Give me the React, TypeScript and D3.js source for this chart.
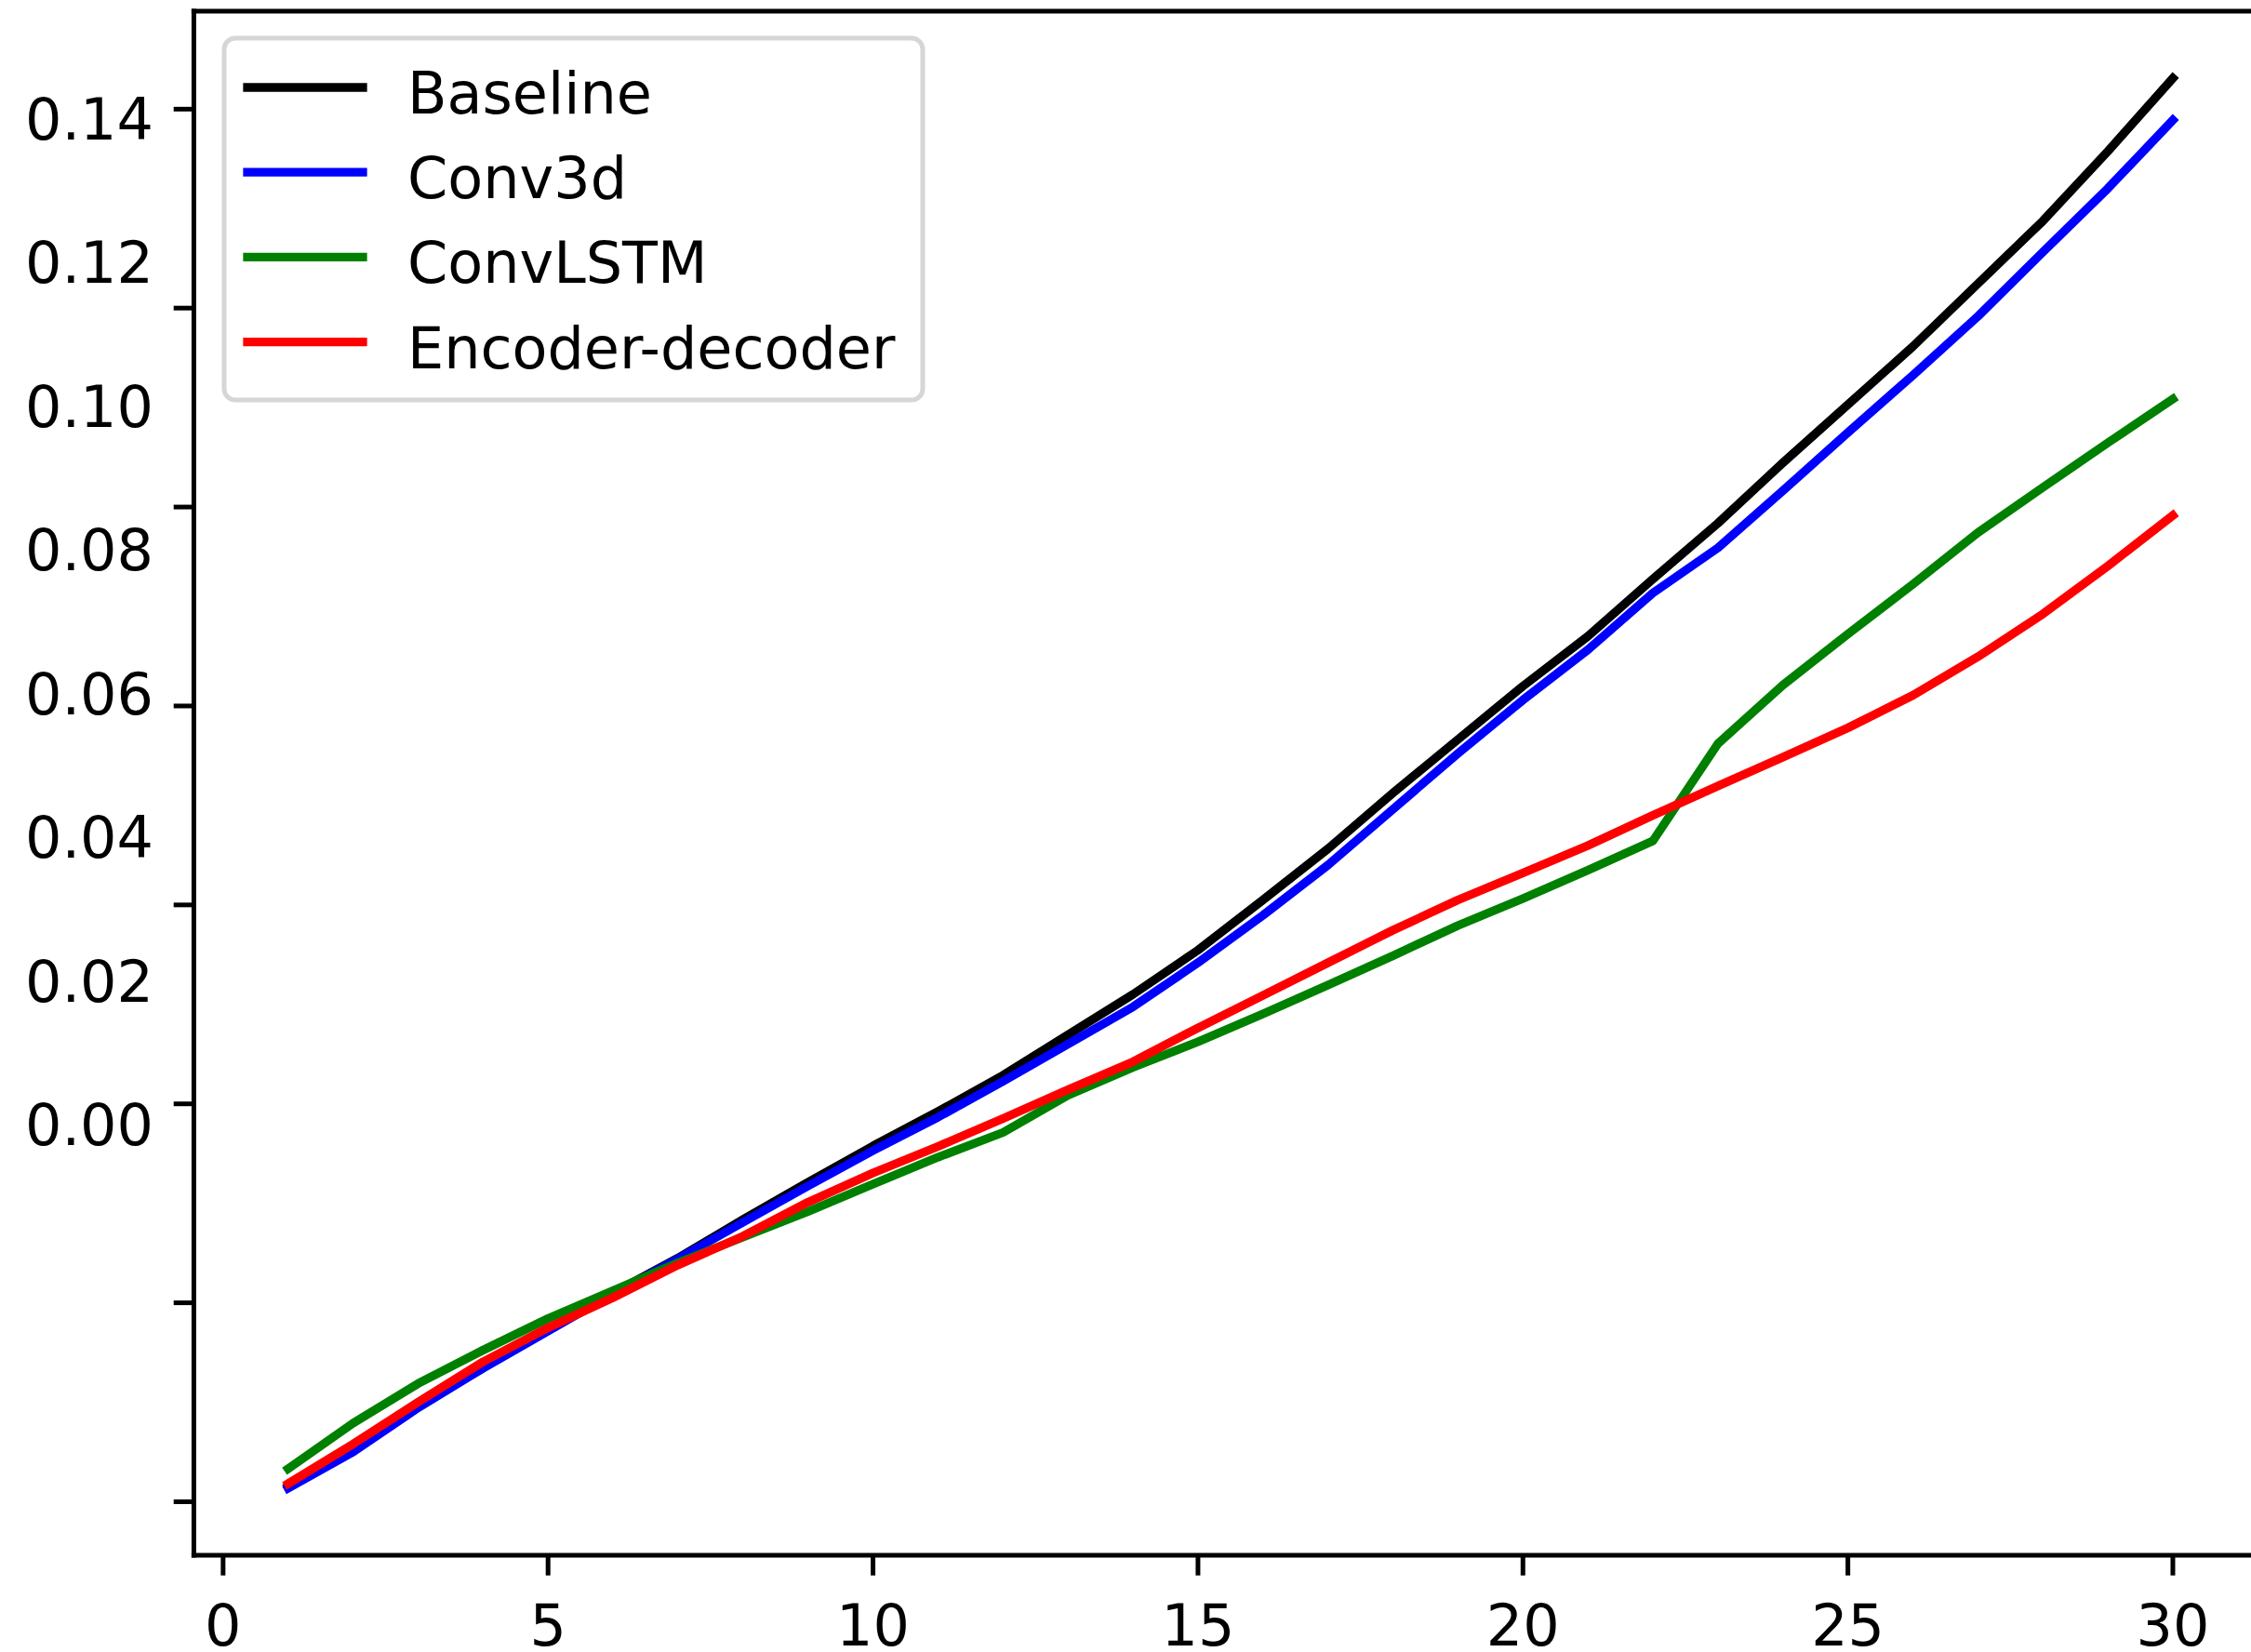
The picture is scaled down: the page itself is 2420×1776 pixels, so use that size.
import React from 'react';
import * as d3 from 'd3';

// prediction step (x) and error per model
const steps = [1, 2, 3, 4, 5, 6, 7, 8, 9, 10, 11, 12, 13, 14, 15, 16, 17, 18, 19, 20, 21, 22, 23, 24, 25, 26, 27, 28, 29, 30];

const baseline = [0.00154, 0.0051, 0.00954, 0.01351, 0.01725, 0.02099, 0.0245, 0.02838, 0.03212, 0.03577,
  0.03923, 0.04287, 0.04694, 0.05101, 0.05545, 0.0605, 0.06564, 0.07125, 0.07663, 0.082,
  0.08701, 0.09276, 0.09837, 0.10445, 0.11029, 0.11614, 0.12245, 0.12876, 0.13577, 0.14311];

const conv3d = [0.00136, 0.005, 0.00944, 0.01342, 0.01716, 0.0209, 0.02441, 0.0281, 0.03175, 0.0353,
  0.03866, 0.04226, 0.046, 0.04975, 0.05419, 0.05896, 0.06401, 0.06962, 0.07523, 0.0806,
  0.08565, 0.09136, 0.09589, 0.10164, 0.10749, 0.11324, 0.11917, 0.12563, 0.13203, 0.1389];

const convLSTM = [0.00332, 0.0079, 0.01188, 0.01524, 0.01842, 0.02123, 0.02403, 0.0266, 0.02917, 0.03193,
  0.03464, 0.03712, 0.04086, 0.04367, 0.04624, 0.04904, 0.05194, 0.05489, 0.05793, 0.06064,
  0.06349, 0.06644, 0.07621, 0.0821, 0.08724, 0.09224, 0.09743, 0.10197, 0.10646, 0.11085];

const encoderDecoder = [0.00182, 0.0058, 0.01001, 0.01407, 0.01749, 0.02052, 0.0238, 0.0267, 0.03011, 0.03305,
  0.03572, 0.03852, 0.04142, 0.04423, 0.04764, 0.05091, 0.05419, 0.05746, 0.0605, 0.06321,
  0.06597, 0.06901, 0.07195, 0.07485, 0.0778, 0.08107, 0.08495, 0.08925, 0.09407, 0.09916];

const seriesNames = ['Baseline', 'Conv3d', 'ConvLSTM', 'Encoder-decoder'];
const seriesColors = ['#000000', '#0000ff', '#008000', '#ff0000'];

const xTicks = [0, 5, 10, 15, 20, 25, 30];
const yTicks = [0, 0.02, 0.04, 0.06, 0.08, 0.1, 0.12, 0.14];
// the labels in the source sit apart from the tick marks, so they get their own scale
const yTickLabels = ['0.14', '0.12', '0.10', '0.08', '0.06', '0.04', '0.02', '0.00'];

const W = 2420;
const H = 1776;
const FONT = '"DejaVu Sans", sans-serif';
const FS = 62;
const LW = 9.3;

export default function App() {
  const x = d3.scaleLinear().domain([-0.45, 31.45]).range([208.4, 2437.3]);
  const y = d3.scaleLinear().domain([-0.00538, 0.14985]).range([1672, 12]);
  const labelY = d3.scalePoint<string>().domain(yTickLabels).range([127, 1208.5]);

  const series = [baseline, conv3d, convLSTM, encoderDecoder];
  const line = d3.line<number>()
    .x((_, i) => x(steps[i]))
    .y(d => y(d));

  const [left, right] = x.range();
  const [bottom, top] = y.range();
  const tickLen = 21.7;

  // legend layout
  const legX = 241, legY = 41, legW = 751, legH = 389;
  const rowY = (i: number) => 94 + i * 91.2;

  return (
    <svg width={W} height={H} style={{ position: 'absolute', left: 0, top: 0, background: '#fff' }}
      fontFamily={FONT}>
      <rect x={0} y={0} width={W} height={H} fill="#fff" />

      {/* data lines */}
      {series.map((vals, i) => (
        <path key={seriesNames[i]} d={line(vals) || ''} fill="none" stroke={seriesColors[i]}
          strokeWidth={LW} strokeLinejoin="round" strokeLinecap="square" />
      ))}

      {/* spines */}
      <g stroke="#000" strokeWidth={5} strokeLinecap="square">
        <line x1={left} x2={left} y1={top} y2={bottom} />
        <line x1={right} x2={right} y1={top} y2={bottom} />
        <line x1={left} x2={right} y1={top} y2={top} />
        <line x1={left} x2={right} y1={bottom} y2={bottom} />
      </g>

      {/* x axis */}
      {xTicks.map(t => (
        <g key={'x' + t}>
          <line x1={x(t)} x2={x(t)} y1={bottom} y2={bottom + tickLen} stroke="#000" strokeWidth={5} />
          <text x={x(t)} y={1769} textAnchor="middle" fontSize={FS} fill="#000">{t}</text>
        </g>
      ))}

      {/* y axis */}
      {yTicks.map(t => (
        <line key={'y' + t} x1={left - tickLen} x2={left} y1={y(t)} y2={y(t)} stroke="#000" strokeWidth={5} />
      ))}
      {yTickLabels.map(l => (
        <text key={'yl' + l} x={165} y={(labelY(l) || 0) + 22.6} textAnchor="end" fontSize={FS} fill="#000">{l}</text>
      ))}

      {/* legend */}
      <rect x={legX} y={legY} width={legW} height={legH} rx={12} ry={12}
        fill="#fff" fillOpacity={0.8} stroke="#d6d6d6" strokeWidth={5} />
      {seriesNames.map((name, i) => (
        <g key={'leg' + name}>
          <line x1={266} x2={390} y1={rowY(i)} y2={rowY(i)} stroke={seriesColors[i]} strokeWidth={LW} strokeLinecap="square" />
          <text x={438} y={rowY(i) + 28} fontSize={FS} fill="#000">{name}</text>
        </g>
      ))}
    </svg>
  );
}
